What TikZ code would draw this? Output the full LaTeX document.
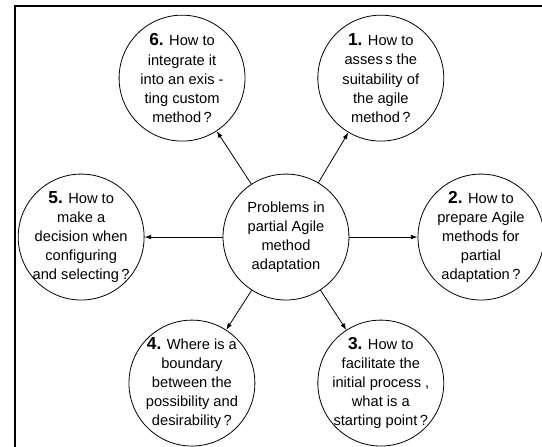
\documentclass[tikz,border=0pt]{standalone}
\usepackage{fontspec}
\setmainfont{Liberation Sans}
\usepackage{tikz}
\usetikzlibrary{arrows.meta}

\newcommand{\qno}[1]{{\fontsize{13}{14}\selectfont\bfseries #1}}

\begin{document}
\begin{tikzpicture}
    \useasboundingbox (-7.54,-5.51) rectangle (6.75,6.25);
    \draw[line width=1.5pt] (-7.14,-5.7) -- (-7.14,6.09) -- (6.9,6.09);

    \tikzstyle{bubble} = [circle, draw, line width=0.6pt, minimum size=3.32cm, inner sep=-20pt, align=center, font=\fontsize{11}{14.3}\selectfont]

    \node[bubble] (p) at (0,0) {Problems in\\partial Agile\\method\\adaptation};
    \node[bubble] (q1) at (2.50,4.19) {\qno{1.} How to\\asses\,s the\\suitability of\\the agile\\method\,?};
    \node[bubble] (q2) at (5.14,0) {\qno{2.} How to\\prepare Agile\\methods for\\partial\\adaptation\,?};
    \node[bubble] (q3) at (2.50,-3.85) {\qno{3.} How to\\facilitate the\\initial process ,\\what is a\\starting point\,?};
    \node[bubble] (q4) at (-2.48,-3.85) {\qno{4.} Where is a\\boundary\\between the\\possibility and\\desirability\,?};
    \node[bubble] (q5) at (-5.40,0) {\qno{5.} How to\\make a\\decision when\\configuring\\and selecting\,?};
    \node[bubble] (q6) at (-2.74,4.19) {\qno{6.} How to\\integrate it\\into an exis -\\ting custom\\method\,?};

    \foreach \i in {1,...,6} {
        \draw[-{Latex[length=5pt,width=3.5pt]}, line width=0.6pt] (p) -- (q\i);
    }
\end{tikzpicture}
\end{document}
